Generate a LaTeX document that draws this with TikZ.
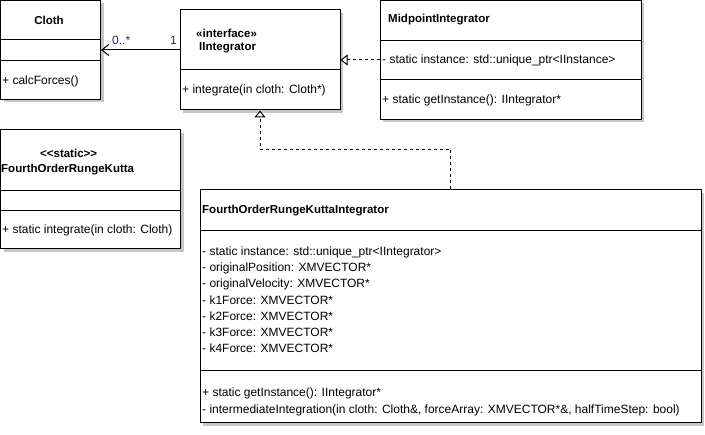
\documentclass[tikz,border=0pt]{standalone}
\usepackage{fontspec}
\setmainfont{Liberation Sans}
\usetikzlibrary{arrows.meta,shadows}
\definecolor{multA}{RGB}{40,40,100}
\definecolor{multB}{RGB}{60,20,120}
\tikzset{
  classbox/.style={draw=black, line width=1pt, fill=white, rectangle, inner sep=0pt,
    drop shadow={shadow xshift=3pt, shadow yshift=-3pt, fill=black!22, opacity=1}},
  divider/.style={draw=black, line width=1pt},
  txt/.style={anchor=west, inner sep=0pt, font=\fontsize{12}{14}\selectfont},
  ttl/.style={txt, font=\fontsize{11.5}{14}\selectfont\bfseries},
  conn/.style={draw=black, line width=1pt},
  dconn/.style={conn, dash pattern=on 3pt off 3pt},
  realize/.style={-{Triangle[open, length=7pt, width=11pt, line width=1pt]}},
  assoc/.style={-{Straight Barb[length=7pt, width=11pt, line width=1pt]}},
  mult/.style={inner sep=0pt, font=\fontsize{12}{14}\selectfont}
}
\begin{document}
\begin{tikzpicture}[x=1pt,y=-1pt]
\useasboundingbox (0,0) rectangle (705,435);
% class boxes
\node[classbox, minimum width=100pt, minimum height=99pt] (cloth) at (50.5,50) {};
\node[classbox, minimum width=160pt, minimum height=100pt] (ii) at (260,60) {};
\node[classbox, minimum width=261pt, minimum height=119pt] (mid) at (510.5,60) {};
\node[classbox, minimum width=180pt, minimum height=119pt] (rk) at (90.5,189.5) {};
\node[classbox, minimum width=501pt, minimum height=233pt] (rki) at (450.5,306.5) {};
% dividers
\draw[divider] (cloth.west |- 0,40) -- (cloth.east |- 0,40);
\draw[divider] (cloth.west |- 0,61) -- (cloth.east |- 0,61);
\draw[divider] (ii.west |- 0,70) -- (ii.east |- 0,70);
\draw[divider] (mid.west |- 0,41) -- (mid.east |- 0,41);
\draw[divider] (mid.west |- 0,80) -- (mid.east |- 0,80);
\draw[divider] (rk.west |- 0,191) -- (rk.east |- 0,191);
\draw[divider] (rk.west |- 0,211) -- (rk.east |- 0,211);
\draw[divider] (rki.west |- 0,231) -- (rki.east |- 0,231);
\draw[divider] (rki.west |- 0,371) -- (rki.east |- 0,371);
% Cloth
\node[ttl, anchor=center] (clothT) at (49,20) {Cloth};
\node[txt] (clothM) at (2,81) {+ calcForces()};
% IIntegrator
\node[ttl] (iiS) at (196,33) {«interface»};
\node[ttl] (iiT) at (199,48) {IIntegrator};
\node[txt] (iiM) at (182,90) {+ integrate(in cloth: Cloth*)};
% Midpoint
\node[ttl] (midT) at (388,20) {MidpointIntegrator};
\node[txt] (midA) at (382,60) {- static instance: std::unique\_ptr{<}IInstance{>}};
\node[txt] (midM) at (382,100) {+ static getInstance(): IIntegrator*};
% FourthOrderRungeKutta
\node[ttl] (rkS) at (40,153) {{<}{<}static{>}{>}};
\node[ttl] (rkT) at (1,170) {FourthOrderRungeKutta};
\node[txt] (rkM) at (2,230) {+ static integrate(in cloth: Cloth)};
% FourthOrderRungeKuttaIntegrator
\node[ttl] (rkiT) at (202,211) {FourthOrderRungeKuttaIntegrator};
\node[txt] (a1) at (202,252) {- static instance: std::unique\_ptr{<}IIntegrator{>}};
\node[txt] (a2) at (202,268) {- originalPosition: XMVECTOR*};
\node[txt] (a3) at (202,284) {- originalVelocity: XMVECTOR*};
\node[txt] (a4) at (202,300) {- k1Force: XMVECTOR*};
\node[txt] (a5) at (202,316) {- k2Force: XMVECTOR*};
\node[txt] (a6) at (202,332) {- k3Force: XMVECTOR*};
\node[txt] (a7) at (202,348) {- k4Force: XMVECTOR*};
\node[txt] (m1) at (202,393) {+ static getInstance(): IIntegrator*};
\node[txt] (m2) at (202,410) {- intermediateIntegration(in cloth: Cloth\&, forceArray: XMVECTOR*\&, halfTimeStep: bool)};
% connectors
\draw[conn, assoc] (ii.west |- cloth.east) -- (cloth.east);
\node[mult, text=multA, anchor=west] (m0) at (112,40) {0..*};
\node[mult, text=multB, anchor=east] (m1b) at (177,40) {1};
\draw[dconn, realize] (mid.west) -- (ii.east);
\draw[dconn, realize] (rki.north) -- ++(0,-40) -| (ii.south);
\end{tikzpicture}
\end{document}
